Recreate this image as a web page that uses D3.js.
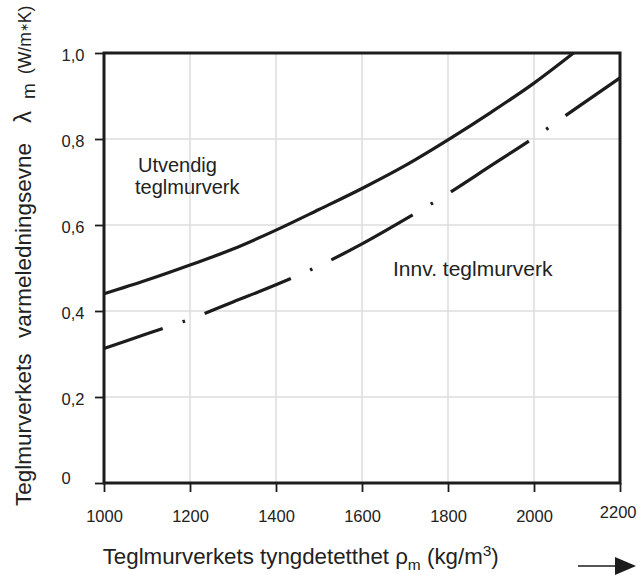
<!DOCTYPE html>
<html>
<head>
<meta charset="utf-8">
<script src="https://cdn.jsdelivr.net/npm/d3@7"></script>
<style>
  html, body { margin: 0; padding: 0; background: #fff; }
  svg { display: block; font-family: "Liberation Sans", Arial, sans-serif; }
</style>
</head>
<body>
<svg id="chart" width="637" height="575"></svg>
<script>
// ---- data ----
const xTicks = [1000, 1200, 1400, 1600, 1800, 2000, 2200];
const xTickLabels = ["1000", "1200", "1400", "1600", "1800", "2000", "2200"];
const yTicks = [0, 0.2, 0.4, 0.6, 0.8, 1.0];
const yTickLabels = ["0", "0,2", "0,4", "0,6", "0,8", "1,0"];

// Utvendig teglmurverk (solid)
const densityOuter = [1000, 1100, 1200, 1300, 1400, 1500, 1600, 1700, 1800, 1900, 2000, 2092];
const lambdaOuter  = [0.44, 0.472, 0.507, 0.544, 0.588, 0.636, 0.685, 0.738, 0.798, 0.862, 0.930, 1.0];

// Innv. teglmurverk (dash-dot)
const densityInner = [1000, 1100, 1200, 1300, 1400, 1500, 1600, 1700, 1800, 1900, 2000, 2100, 2200];
const lambdaInner  = [0.313, 0.347, 0.381, 0.421, 0.461, 0.505, 0.556, 0.613, 0.673, 0.738, 0.803, 0.873, 0.942];

// ---- layout ----
const svg = d3.select("#chart");
const L = 104, R = 620, T = 53, B = 483;
const x = d3.scaleLinear().domain([1000, 2200]).range([L, R]);
const y = d3.scaleLinear().domain([0, 1]).range([B, T]);
const ink = "#1c1c1c";
const txt = "#222";

// grid
const grid = svg.append("g").attr("stroke", "#dcdcdc").attr("stroke-width", 1.5);
grid.selectAll("line.v").data(xTicks.slice(1, -1)).join("line")
  .attr("x1", d => x(d)).attr("x2", d => x(d)).attr("y1", T).attr("y2", B);
grid.selectAll("line.h").data(yTicks.slice(1, -1)).join("line")
  .attr("x1", L).attr("x2", R).attr("y1", d => y(d)).attr("y2", d => y(d));

// axes
const yAxis = d3.axisLeft(y).tickValues(yTicks).tickSize(9)
  .tickFormat((d, i) => yTickLabels[i]);
const gy = svg.append("g").attr("transform", `translate(${L},0)`).call(yAxis);
gy.select(".domain").remove();
gy.selectAll(".tick line").attr("stroke", ink).attr("stroke-width", 1.8);
gy.selectAll(".tick text")
  .attr("x", 61.5 - L).attr("text-anchor", "start")
  .attr("dy", d => d === 0 ? 0 : 7)
  .attr("fill", txt).style("font-size", "16.5px").style("font-family", "Liberation Sans, Arial, sans-serif");

const xAxis = d3.axisBottom(x).tickValues(xTicks).tickSize(9)
  .tickFormat((d, i) => xTickLabels[i]);
const gx = svg.append("g").attr("transform", `translate(0,${B})`).call(xAxis);
gx.select(".domain").remove();
gx.selectAll(".tick line").attr("stroke", ink).attr("stroke-width", 1.8);
gx.selectAll(".tick text")
  .attr("y", d => d === 2200 ? 35 : 38.5).attr("dy", 0)
  .attr("x", d => d === 2200 ? 16 : 0)
  .attr("text-anchor", d => d === 2200 ? "end" : "middle")
  .attr("fill", txt).style("font-size", "16.5px").style("font-family", "Liberation Sans, Arial, sans-serif");

// frame
svg.append("rect").attr("x", L).attr("y", T).attr("width", R - L).attr("height", B - T)
  .attr("fill", "none").attr("stroke", ink).attr("stroke-width", 3);

// curves
const line = d3.line().x(d => x(d[0])).y(d => y(d[1])).curve(d3.curveMonotoneX);
svg.append("path")
  .datum(d3.zip(densityOuter, lambdaOuter))
  .attr("d", line).attr("fill", "none").attr("stroke", ink).attr("stroke-width", 3.2);
svg.append("path")
  .datum(d3.zip(densityInner, lambdaInner))
  .attr("d", line).attr("fill", "none").attr("stroke", ink).attr("stroke-width", 3.2)
  .attr("stroke-dasharray", "93,21,2.6,21").attr("stroke-dashoffset", 31);

// curve labels
svg.append("text").attr("x", 138).attr("y", 171.5).text("Utvendig")
  .attr("fill", txt).style("font-size", "20px");
svg.append("text").attr("x", 135).attr("y", 194).text("teglmurverk")
  .attr("fill", txt).style("font-size", "20px");
svg.append("text").attr("x", 393).attr("y", 276).text("Innv. teglmurverk")
  .attr("fill", txt).style("font-size", "21px");

// x title
const xt = svg.append("text").attr("x", 102.7).attr("y", 563.5)
  .attr("fill", txt).style("font-size", "22.3px");
xt.append("tspan").text("Teglmurverkets tyngdetetthet ρ");
xt.append("tspan").attr("dy", 6).style("font-size", "15.5px").text("m");
xt.append("tspan").attr("dy", -6).text(" (kg/m");
xt.append("tspan").attr("dy", -8).style("font-size", "15.5px").text("3");
xt.append("tspan").attr("dy", 8).text(")");

// y title
const yt = svg.append("g").attr("transform", "translate(31,506) rotate(-90)")
  .append("text").attr("fill", txt).style("font-size", "22.5px");
yt.append("tspan").attr("x", 0).text("Teglmurverkets");
yt.append("tspan").attr("x", 506 - 338).text("varmeledningsevne");
yt.append("tspan").attr("x", 506 - 123).style("font-size", "24px").text("λ");
yt.append("tspan").attr("x", 506 - 99).attr("dy", 4).style("font-size", "19px").text("m");
yt.append("tspan").attr("x", 506 - 74).attr("dy", -4).style("font-size", "17.5px").text("(W/m");
yt.append("tspan").style("font-size", "11px").attr("dy", -3).text("∗");
yt.append("tspan").style("font-size", "17.5px").attr("dy", 3).text("K)");

// arrow
svg.append("line").attr("x1", 578).attr("x2", 617).attr("y1", 566).attr("y2", 566)
  .attr("stroke", ink).attr("stroke-width", 1.6);
svg.append("path").attr("d", "M615,557 L636,566 L615,575 Z").attr("fill", ink);
</script>
</body>
</html>
